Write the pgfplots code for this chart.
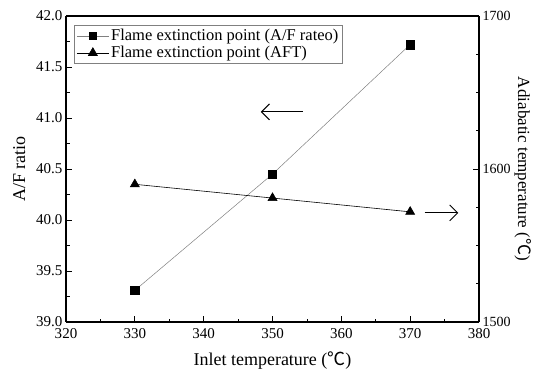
\documentclass[border=0pt]{standalone}
\usepackage{pgfplots}
\pgfplotsset{compat=1.18}
\usetikzlibrary{arrows.meta}
\usepackage{fontspec}
\setmainfont{Liberation Serif}
\newfontfamily\cjk{Noto Sans CJK SC}
\begin{document}
\begin{tikzpicture}
\pgfplotsset{
  common/.style={
    scale only axis, width=413pt, height=306pt,
    xmin=320, xmax=380,
    tick style={black, line width=0.8pt},
    major tick length=6pt, minor tick length=3.5pt,
    tick align=inside,
    ticklabel style={font=\fontsize{15}{16}\selectfont},
    /pgf/number format/assume math mode=true,
    /pgf/number format/1000 sep={},
    axis line style={line width=1.2pt},
    label style={font=\fontsize{18}{20}\selectfont},
  }
}
% left axis: A/F ratio
\begin{axis}[common, name=ax,
  axis y line*=left, axis x line*=bottom,
  ymin=39, ymax=42,
  xtick={320,330,...,380}, minor x tick num=1,
  ytick={39,39.5,...,42}, minor y tick num=1,
  yticklabel style={/pgf/number format/fixed,/pgf/number format/fixed zerofill,/pgf/number format/precision=1},
  xticklabel style={yshift=-3pt},
  xlabel={Inlet temperature ({\cjk ℃})},
  ylabel={A/F ratio},
  ylabel style={yshift=4pt},
  xlabel style={yshift=-6pt},
]
\addplot[gray, line width=0.5pt, mark=square*, mark options={black, solid, scale=2.1}]
  coordinates {(330,39.31) (350,40.45) (370,41.72)};
\draw[-{Straight Barb[length=8pt,width=16pt]}, line width=1pt] (axis cs:354.4,41.06) -- (axis cs:348.3,41.06);
\draw[-{Straight Barb[length=8pt,width=16pt]}, line width=1pt] (axis cs:372.1,40.07) -- (axis cs:377.0,40.07);
\end{axis}
% right axis: adiabatic temperature
\begin{axis}[common,
  axis y line*=right, axis x line*=top,
  xtick=\empty,
  ymin=1500, ymax=1700,
  ytick={1500,1600,1700}, minor y tick num=3,
  yticklabel style={font=\fontsize{14}{15}\selectfont},
  ylabel={Adiabatic temperature ({\cjk ℃})},
  ylabel style={rotate=180, yshift=-3pt, font=\fontsize{17}{19}\selectfont},
  legend style={at={(0.02,0.97)}, anchor=north west, draw=gray, line width=0.6pt,
    font=\fontsize{16.5}{18}\selectfont, row sep=0pt, inner sep=2pt,
    cells={anchor=west}},
  legend cell align=left,
  legend image code/.code={
    \draw[mark repeat=2,mark phase=2] plot coordinates {(0pt,0pt) (16pt,0pt) (32pt,0pt)};
  },
]
\addlegendimage{gray, line width=0.5pt, mark=square*, mark options={black, solid, scale=1.8}}
\addlegendentry{Flame extinction point (A/F rateo)}
\addplot[black, line width=0.6pt, mark=triangle*, mark options={black, solid, scale=2.6}]
  coordinates {(330,1590) (350,1581) (370,1572)};
\addlegendentry{Flame extinction point (AFT)}
\end{axis}
\pgfresetboundingbox
\useasboundingbox ([shift={(-66pt,-53pt)}]ax.south west) rectangle ([shift={(58pt,16pt)}]ax.north east);
\end{tikzpicture}
\end{document}
